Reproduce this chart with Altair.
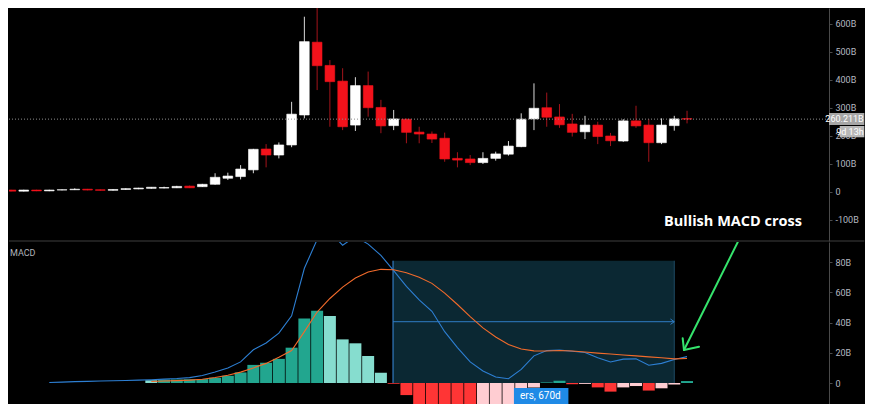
import altair as alt
import pandas as pd

# ---------------- data (values in billions) ----------------
idx = list(range(54))
opens = [7, 3, 7, 4, 7, 8, 10, 8, 6, 9,
         11, 13, 14, 15, 21, 19, 27.5, 49, 55, 79,
         153.6, 132, 168, 275, 535, 452, 396, 239, 380, 302,
         237, 260, 214, 207, 192, 120, 118, 105, 120, 135,
         162, 261, 301, 268, 243, 215, 239, 200, 182, 254,
         239, 176, 237, 262]
highs = [8, 8, 8, 8, 9, 13, 11, 9, 10, 13,
         15, 18, 19, 22, 23, 29, 67, 69, 96, 154,
         171, 177, 322, 626, 700, 471, 442, 410, 430, 329,
         293, 262, 233, 216, 212, 142, 132, 142, 144, 182,
         281, 388, 355, 314, 279, 272, 251, 211, 260, 308,
         260, 263, 272, 290]
lows = [2, 2, 3, 3, 6, 7, 6, 5, 5, 8,
        10, 12, 13, 14, 14, 18, 26, 43, 45, 67,
        88, 120, 160, 263, 364, 233, 221, 218, 269, 210,
        221, 174, 174, 175, 108, 88, 96, 100, 112, 130,
        160, 221, 233, 229, 198, 189, 171, 164, 179, 229,
        108, 171, 219, 245]
closes = [3, 7, 4, 7, 8, 10, 7, 6, 9, 12,
          14, 17, 16, 20, 15, 27.5, 52.5, 57, 82, 152.5,
          132, 168, 278, 537, 451, 394, 233, 380, 301, 236,
          261, 213, 207, 189, 118, 114, 105, 120, 136, 164,
          260, 299, 267, 240, 213, 239, 198, 183, 254, 236,
          176, 239, 261, 260.211]

macd = [None] * 3 + [
    0.3, 0.6, 0.9, 1.1, 1.3, 1.5, 1.7, 1.9, 2.2, 2.6,
    3.0, 3.6, 5, 7.3, 10, 14, 22, 26.5, 33, 44.5,
    76, 95, 100, 91.3, 97, 92, 84.5, 74.5, 64, 55,
    47.5, 34, 23.5, 14, 8, 4, 2.8, 9, 18, 21.5,
    21.8, 21, 20.2, 16.8, 13.9, 15.8, 16, 11.8, 13, 15.6,
    17.5]
signal = [None] * 11 + [
    1.0, 1.3, 1.6, 1.9, 2.5, 3.6, 5.1, 7.2, 10, 13,
    17, 21.5, 34, 47, 56, 63.5, 69.5, 73.5, 75.3, 75,
    73, 70, 66, 59.5, 52, 44, 36.5, 30.5, 25.5, 22.5,
    21.3, 21.2, 21.5, 21.2, 20.5, 19.8, 19.2, 18.6, 18, 17.3,
    16.7, 16, 16.2]
hist = [None] * 11 + [
    1.8, 2.3, 2.4, 2.5, 2.6, 3.5, 4.8, 7, 12, 13.5,
    16, 23.4, 42.8, 47.9, 44.4, 28.9, 26.3, 17.9, 6.8, -0.5,
    -8, -17, -19, -24, -28, -28.5, -28, -26, -22.5, -14.5,
    -3, 0.4, 1.5, -0.8, -0.6, -2.9, -5.7, -2.9, -2, -5,
    -3.5, -1, 1.3]

price_ticks = [-100, 0, 100, 200, 300, 400, 500, 600]
macd_ticks = [0, 20, 40, 60, 80]
last_price = 260.211

# ---------------- scales ----------------
W, HP, HM = 820, 233, 162
xs = alt.Scale(domain=[-0.157, 64.13], nice=False, zero=False)
ps = alt.Scale(domain=[-175, 657.1], nice=False, zero=False)
ms = alt.Scale(domain=[-13.9, 93.4], nice=False, zero=False)

AX_COL = "#4a4a4a"
LBL = "#b5b8c0"
label_expr = "datum.value == 0 ? '0' : datum.value + 'B'"


def right_axis(vals):
    return alt.Axis(orient="right", values=vals, labelExpr=label_expr, title=None,
                    grid=False, domainColor=AX_COL, tickColor=AX_COL, tickSize=3,
                    labelColor=LBL, labelFontSize=9, labelFont="Roboto", labelPadding=3)


PAX = right_axis(price_ticks)
MAX = right_axis(macd_ticks)


def py(field):
    return alt.Y(field, scale=ps, axis=PAX)


def my(field):
    return alt.Y(field, scale=ms, axis=MAX)


def xx(field):
    return alt.X(field, scale=xs, axis=None)


# ---------------- price panel ----------------
cd = pd.DataFrame({"i": idx, "o": opens, "h": highs, "l": lows, "c": closes})
cd["up"] = cd["c"] >= cd["o"]
cd["body"] = cd["up"].map({True: "#ffffff", False: "#f3121b"})
cd["wick"] = cd["up"].map({True: "#d9d9d9", False: "#a3141b"})
cd["x1"] = cd["i"] - 0.38
cd["x2"] = cd["i"] + 0.38

wicks = alt.Chart(cd).mark_rule(strokeWidth=1, clip=True).encode(
    x=xx("i:Q"), y=py("l:Q"), y2="h:Q",
    color=alt.Color("wick:N", scale=None),
)
bodies = alt.Chart(cd).mark_rect(clip=True, strokeWidth=0.6).encode(
    x=xx("x1:Q"), x2="x2:Q", y=py("o:Q"), y2="c:Q",
    color=alt.Color("body:N", scale=None),
    stroke=alt.Stroke("body:N", scale=None),
)
pline = alt.Chart(pd.DataFrame({"v": [last_price]})).mark_rule(
    color="#8c8c8c", strokeDash=[1, 2], strokeWidth=1
).encode(y=py("v:Q"))

frame_p = pd.DataFrame({"x1": [-0.157], "x2": [66.9], "y1": [-175], "y2": [-175]})
frame_price = alt.Chart(frame_p).mark_rule(color="#3f3f3f", strokeWidth=1).encode(
    x=xx("x1:Q"), x2="x2:Q", y=py("y1:Q"), y2="y2:Q",
)

tags = pd.DataFrame({
    "x1": [64.13, 64.97], "x2": [66.9, 66.9],
    "y1": [282.1, 235.7], "y2": [239.3, 195.4],
    "fill": ["#a6a6a6", "#b8b8b8"],
    "txt": ["260.211B", "9d 13h"],
    "xt": [66.85, 66.85], "yt": [260.7, 215.5],
})
tag_boxes = alt.Chart(tags).mark_rect().encode(
    x=xx("x1:Q"), x2="x2:Q", y=py("y1:Q"), y2="y2:Q",
    color=alt.Color("fill:N", scale=None),
)
tag_text = alt.Chart(tags).mark_text(align="right", baseline="middle", color="#ffffff",
                                     fontSize=9, font="Roboto").encode(
    x=xx("xt:Q"), y=py("yt:Q"), text="txt:N",
)

note = alt.Chart(pd.DataFrame({"i": [51.2], "v": [-107], "t": ["Bullish MACD cross"]})).mark_text(
    align="left", baseline="middle", fontSize=14.5, fontWeight="bold", font="Open Sans",
    color="#ffffff"
).encode(x=xx("i:Q"), y=py("v:Q"), text="t:N")

price = alt.layer(wicks, bodies, pline, frame_price, tag_boxes, tag_text, note).properties(
    width=W, height=HP)

# ---------------- MACD panel ----------------
md = pd.DataFrame({"i": idx, "m": macd, "s": signal, "h": hist})
hd = md.dropna(subset=["h"]).copy()
prev = hd["h"].shift(1)


def hcol(h, p):
    if h >= 0:
        return "#22a68f" if (pd.notna(p) and h > p) else "#86ddcf"
    return "#ff3535" if (pd.notna(p) and h < p) else "#ffcdd2"


hd["col"] = [hcol(h, p) for h, p in zip(hd["h"], prev)]
hd["x1"] = hd["i"] - 0.47
hd["x2"] = hd["i"] + 0.47
hd["zero"] = 0.0

box = alt.Chart(pd.DataFrame({"x1": [29.95], "x2": [52.0], "y1": [0.0], "y2": [81.0]})).mark_rect(
    color="#0b2833"
).encode(x=xx("x1:Q"), x2="x2:Q", y=my("y1:Q"), y2="y2:Q")

seg_box = pd.DataFrame({
    "x1": [29.95, 52.0, 29.95, 52.0, 52.0],
    "x2": [29.95, 52.0, 52.0, 51.7, 51.7],
    "y1": [0, 0, 40.6, 40.6, 40.6],
    "y2": [81, 81, 40.6, 42.4, 38.8],
    "col": ["#3a8ee0", "#1f4b63", "#2f7dc6", "#2f7dc6", "#2f7dc6"],
})
box_lines = alt.Chart(seg_box).mark_rule(strokeWidth=1).encode(
    x=xx("x1:Q"), x2="x2:Q", y=my("y1:Q"), y2="y2:Q",
    color=alt.Color("col:N", scale=None),
)

bars = alt.Chart(hd).mark_rect(clip=True).encode(
    x=xx("x1:Q"), x2="x2:Q", y=my("zero:Q"), y2="h:Q",
    color=alt.Color("col:N", scale=None),
)

macd_line = alt.Chart(md.dropna(subset=["m"])).mark_line(
    color="#2d7fd3", strokeWidth=1.1, clip=True
).encode(x=xx("i:Q"), y=my("m:Q"))

sig_line = alt.Chart(md.dropna(subset=["s"])).mark_line(
    color="#f26b2b", strokeWidth=1.1, clip=True
).encode(x=xx("i:Q"), y=my("s:Q"))

lbl = pd.DataFrame({"x1": [39.43], "x2": [43.7], "y1": [-3.3], "y2": [-13.9],
                    "xt": [39.9], "yt": [-8.6], "t": ["ers, 670d"]})
lbl_box = alt.Chart(lbl).mark_rect(color="#1f8ae6", clip=True).encode(
    x=xx("x1:Q"), x2="x2:Q", y=my("y1:Q"), y2="y2:Q",
)
lbl_text = alt.Chart(lbl).mark_text(align="left", baseline="middle", color="#ffffff",
                                    fontSize=10, font="Roboto").encode(
    x=xx("xt:Q"), y=my("yt:Q"), text="t:N",
)

arrow = pd.DataFrame({
    "x1": [56.97, 52.76, 52.76],
    "x2": [52.76, 52.66, 53.94],
    "y1": [93.2, 21.9, 21.9],
    "y2": [21.9, 29.6, 24.0],
})
arrow_l = alt.Chart(arrow).mark_rule(color="#35e36c", strokeWidth=2, strokeCap="round",
                                     clip=True).encode(
    x=xx("x1:Q"), x2="x2:Q", y=my("y1:Q"), y2="y2:Q",
)

title_txt = alt.Chart(pd.DataFrame({"i": [-0.08], "v": [86.1], "t": ["MACD"]})).mark_text(
    align="left", baseline="middle", fontSize=9, font="Roboto", color="#b0b3bb"
).encode(x=xx("i:Q"), y=my("v:Q"), text="t:N")

macd_panel = alt.layer(box, box_lines, bars, macd_line, sig_line, lbl_box, lbl_text,
                       arrow_l, title_txt).properties(width=W, height=HM)

chart = alt.vconcat(price, macd_panel, spacing=0).properties(
    padding={"left": 0, "top": 0, "right": 0, "bottom": 0}
).configure(background="#000000").configure_view(stroke=None)

chart.save("out.html", embed_options={"renderer": "svg", "actions": False})
